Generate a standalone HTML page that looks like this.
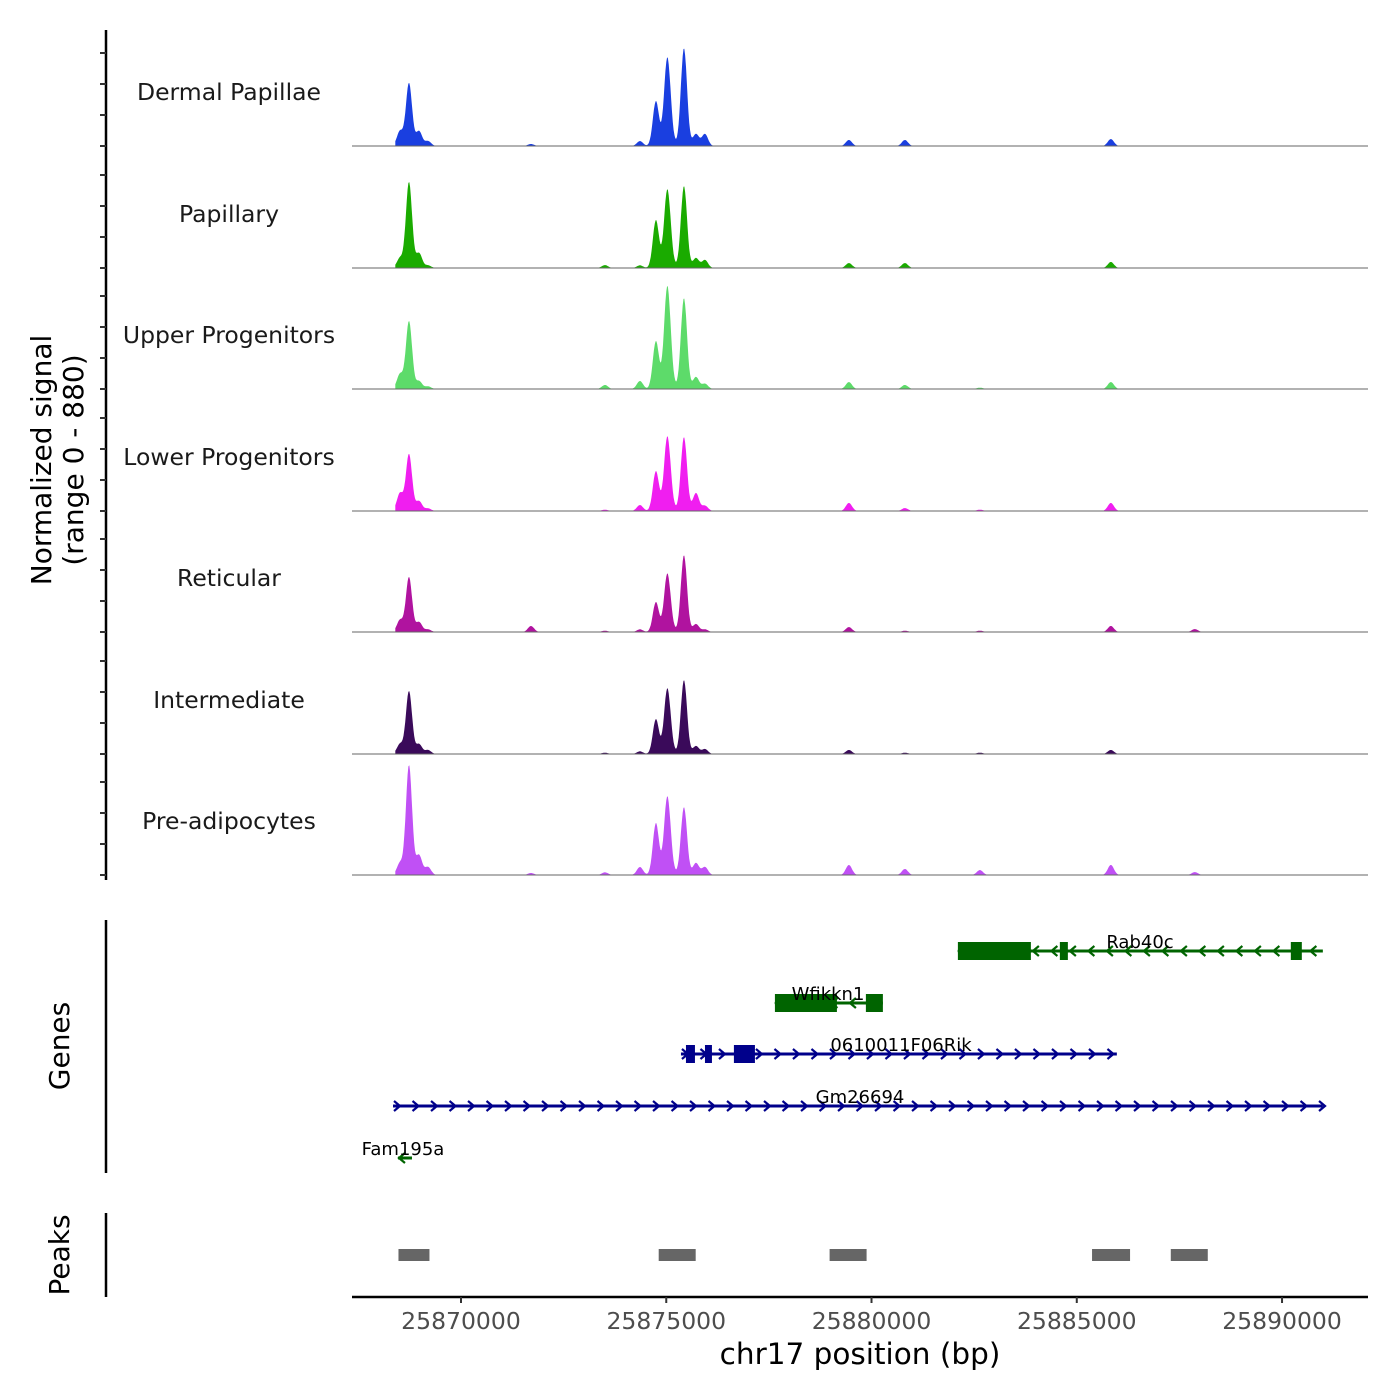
<!DOCTYPE html>
<html><head><meta charset="utf-8"><style>
html,body{margin:0;padding:0;background:#fff;}
svg{display:block;font-family:"DejaVu Sans","Liberation Sans",sans-serif;}
</style></head><body>
<svg id="chart" width="1400" height="1400" viewBox="0 0 1400 1400" xmlns="http://www.w3.org/2000/svg"></svg>
<script>
// ---- data ----
const trackNames = ["Dermal Papillae","Papillary","Upper Progenitors","Lower Progenitors","Reticular","Intermediate","Pre-adipocytes"];
const trackColors = ["#1a3fe0","#1aab00","#5ddb6a","#f01ef0","#b0139f","#3a0a5a","#c050f5"];
const peakPositions = [25868514,25868733,25868977,25869196,25871705,25873507,25874359,25874749,25875017,25875090,25875431,25875723,25875942,25879449,25880813,25882640,25885830,25887875];
const sigDermal =  [112,470,112,37,15,0,37,336,577,130,731,90,90,45,45,0,52,0];
const sigPapillary=[75,642,112,20,0,22,20,358,512,116,612,75,60,37,37,0,45,0];
const sigUpper =   [112,507,60,20,0,30,60,358,670,152,679,90,40,52,30,10,52,0];
const sigLower =   [134,425,75,20,0,10,45,298,486,110,552,134,40,60,22,10,60,0];
const sigReticular=[90,410,75,20,45,10,20,224,381,86,574,60,20,37,10,10,45,22];
const sigInterm =  [75,470,75,30,0,10,20,261,427,97,552,60,37,30,10,10,30,0];
const sigPreadipo =[90,820,149,60,15,20,60,388,512,116,507,90,60,75,45,37,75,22];
const trackSignals = [sigDermal,sigPapillary,sigUpper,sigLower,sigReticular,sigInterm,sigPreadipo];
const xTicks = [25870000,25875000,25880000,25885000,25890000];
const xTickLabels = ["25870000","25875000","25880000","25885000","25890000"];
const peakStarts = [25868477,25874816,25878979,25885372,25887290];
const peakEnds =   [25869232,25875717,25879880,25886298,25888191];
const geneNames = ["Rab40c","Wfikkn1","0610011F06Rik","Gm26694","Fam195a"];
const geneStarts = [25882104,25877647,25875358,25868344,25868465];
const geneEnds =   [25890994,25880277,25885976,25890994,25868806];
const geneStrand = [-1,-1,1,1,-1];
const geneColors = ["#006400","#006400","#00008b","#00008b","#006400"];
const exonStarts = [[25882104,25884588,25890214],[25877647,25879863],[25875480,25875943,25876648],[],[]];
const exonEnds =   [[25883882,25884783,25890482],[25879157,25880277],[25875699,25876113,25877160],[],[]];
// ---- scales ----
const X0=352,X1=1368,BP0=25867345,BP1=25892094;
const xs=bp=>X0+(bp-BP0)*(X1-X0)/(BP1-BP0);
const baselines=[146,268,389,511,632,754,875];
const ys=(v,b)=>b-v*118/880;
const NS="http://www.w3.org/2000/svg";
const svg=document.getElementById('chart');
function mk(tag,attrs,parent){const e=document.createElementNS(NS,tag);for(const k in attrs)e.setAttribute(k,attrs[k]);(parent||svg).appendChild(e);return e;}
// left axis
let ax=mk('line',{x1:106,y1:30,x2:106,y2:880,stroke:'#000','stroke-width':2.5});


baselines.forEach(b=>{for(let k=0;k<4;k++){let t=mk('line',{x1:100,x2:106,y1:b-k*31,y2:b-k*31,stroke:'#333','stroke-width':2});

}});
let yt=mk('text',{transform:'translate(51,460) rotate(-90)','text-anchor':'middle','font-size':28,fill:'#000'});


mk('tspan',{x:0,dy:0},yt).textContent='Normalized signal';
mk('tspan',{x:0,dy:32},yt).textContent='(range 0 - 880)';
// tracks
trackNames.forEach((name,i)=>{
 const b=baselines[i],sig=trackSignals[i];
 const g=mk('g',{});
 
 
 let d='M'+xs(25868400)+','+b;
 for(let bp=25868400;bp<=25891500;bp+=20){
  let v=0;for(let j=0;j<peakPositions.length;j++){const dd=(bp-peakPositions[j])/75;v+=sig[j]*Math.exp(-dd*dd/2);}
  d+=' L'+xs(bp).toFixed(1)+','+ys(v,b).toFixed(1);
 }
 d+=' L'+xs(25891500)+','+b+' Z';
 const p=mk('path',{d:d,fill:trackColors[i]},g);
 
 
 const bl=mk('line',{x1:X0,x2:X1,y1:b,y2:b,stroke:'#666','stroke-width':1},g);
 
 
 const t=mk('text',{x:229,y:b-46,'text-anchor':'middle','font-size':23.5,fill:'#1a1a1a'},g);
 
 
 t.textContent=name;
});
// genes panel
let ga=mk('line',{x1:106,y1:920,x2:106,y2:1173,stroke:'#000','stroke-width':2.5});


let gt=mk('text',{transform:'translate(69,1046) rotate(-90)','text-anchor':'middle','font-size':28});


gt.textContent='Genes';
const geneY=[951,1003,1054,1106,1158];
geneNames.forEach((n,i)=>{
 const y=geneY[i],c=geneColors[i];
 const g=mk('g',{});
 
 
 const a=xs(geneStarts[i]),e=xs(geneEnds[i]);
 mk('line',{x1:a,x2:e,y1:y,y2:y,stroke:c,'stroke-width':3},g);
 const s=geneStrand[i];
 for(let x=a+4;x<=e;x+=18.5){mk('polyline',{points:(x-3*s)+','+(y-5)+' '+(x+3*s)+','+y+' '+(x-3*s)+','+(y+5),fill:'none',stroke:c,'stroke-width':2.2},g);}
 exonStarts[i].forEach((st,k)=>{const ex=mk('rect',{x:xs(st),y:y-9,width:xs(exonEnds[i][k])-xs(st),height:18,fill:c},g);
  
  });
 const lx=[1140,828,901,860,403][i];
 const t=mk('text',{x:lx,y:y-3,'text-anchor':'middle','font-size':18,fill:'#000'},g);
 
 
 t.textContent=n;
});
// peaks panel
let pa=mk('line',{x1:106,y1:1213,x2:106,y2:1297,stroke:'#000','stroke-width':2.5});


let pt=mk('text',{transform:'translate(69,1255) rotate(-90)','text-anchor':'middle','font-size':28});


pt.textContent='Peaks';
peakStarts.forEach((s,i)=>{const r=mk('rect',{x:xs(s),y:1249,width:xs(peakEnds[i])-xs(s),height:12,fill:'#666'});
 
 });
// x axis
let xa=mk('line',{x1:X0,x2:X1,y1:1297,y2:1297,stroke:'#000','stroke-width':2.5});


xTicks.forEach((v,i)=>{
 const x=xs(v);
 const tk=mk('line',{x1:x,x2:x,y1:1297,y2:1303,stroke:'#333','stroke-width':2});
 
 
 const t=mk('text',{x:x,y:1329,'text-anchor':'middle','font-size':23.5,fill:'#4d4d4d'});
 
 
 t.textContent=xTickLabels[i];
});
let xt=mk('text',{x:860,y:1364,'text-anchor':'middle','font-size':29.5,fill:'#000'});


xt.textContent='chr17 position (bp)';
</script>
</body></html>
